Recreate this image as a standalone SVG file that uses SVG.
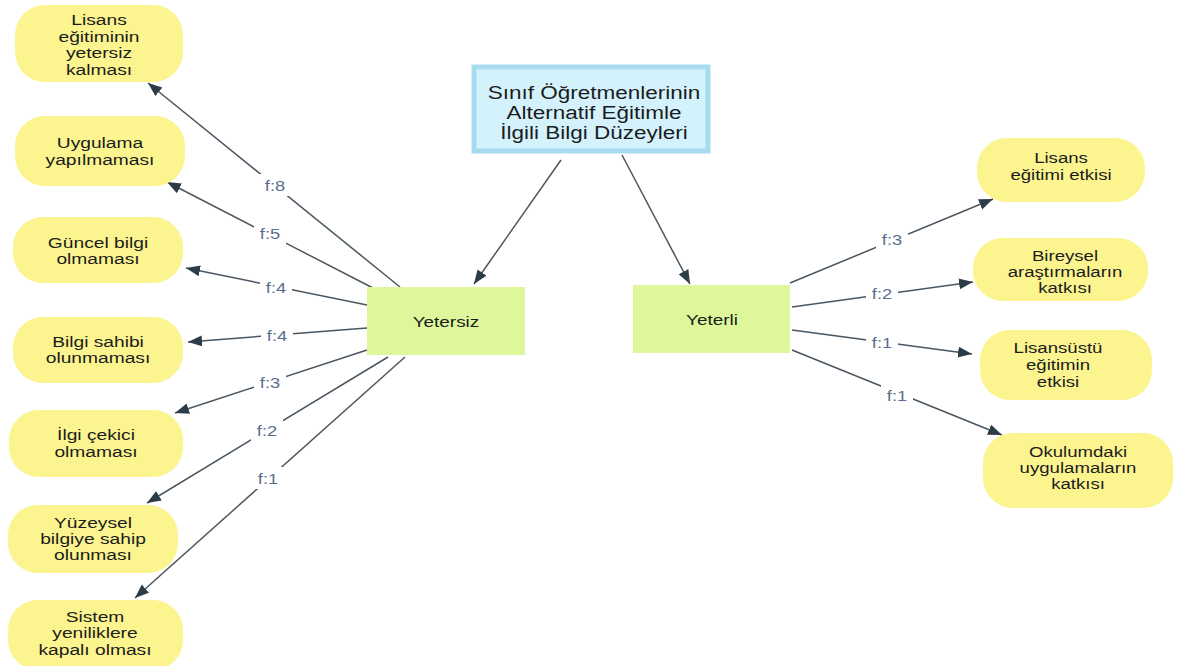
<svg xmlns="http://www.w3.org/2000/svg" width="1181" height="666" viewBox="0 0 1181 666">
<style>
.leaf{fill:#fbf48f;stroke:none}
.cat{fill:#def79b;stroke:none}
.root{fill:#d4f2fc;stroke:#a9dbf0;stroke-width:5}
.t{font-family:"Liberation Sans",Arial,sans-serif;font-size:15.5px;fill:#1c1c1c;text-anchor:middle}
.tr{font-family:"Liberation Sans",Arial,sans-serif;font-size:18px;fill:#1c1c1c;text-anchor:middle}
.edge{stroke:#4a5660;stroke-width:1.5;fill:none;marker-end:url(#ah)}
.lbg{fill:#ffffff}
.lbl{font-family:"Liberation Sans",Arial,sans-serif;font-size:15px;fill:#5b6d8e;text-anchor:middle}
</style>
<defs>
<marker id="ah" markerUnits="userSpaceOnUse" markerWidth="15" markerHeight="12" refX="14" refY="5.5" orient="auto">
<path d="M0,0 L14,5.5 L0,11 Z" fill="#2d3d47"/>
</marker>
</defs>
<rect width="1181" height="666" fill="#ffffff"/>

<g id="connectors">
<line class="edge" x1="561" y1="160" x2="474" y2="284"/>
<line class="edge" x1="622" y1="155" x2="690" y2="284"/>
<line class="edge" x1="400" y1="287" x2="148" y2="83"/>
<line class="edge" x1="373" y1="288" x2="167" y2="182"/>
<line class="edge" x1="367" y1="305" x2="186" y2="268"/>
<line class="edge" x1="367" y1="328" x2="188" y2="342"/>
<line class="edge" x1="367" y1="350" x2="175" y2="413"/>
<line class="edge" x1="388" y1="357" x2="147" y2="503"/>
<line class="edge" x1="405" y1="357" x2="135" y2="598"/>
<line class="edge" x1="790" y1="283" x2="993" y2="199"/>
<line class="edge" x1="792" y1="307" x2="973" y2="282"/>
<line class="edge" x1="792" y1="330" x2="972" y2="354"/>
<line class="edge" x1="792" y1="350" x2="1002" y2="435"/>
<g id="edge-labels">
<rect class="lbg" x="259" y="174" width="32" height="22"/>
<text class="lbl" transform="translate(275 0) scale(1.22 1)" y="191">f:8</text>
<rect class="lbg" x="254" y="222" width="32" height="22"/>
<text class="lbl" transform="translate(270 0) scale(1.22 1)" y="239">f:5</text>
<rect class="lbg" x="260" y="276" width="32" height="22"/>
<text class="lbl" transform="translate(276 0) scale(1.22 1)" y="293">f:4</text>
<rect class="lbg" x="261" y="324" width="32" height="22"/>
<text class="lbl" transform="translate(277 0) scale(1.22 1)" y="341">f:4</text>
<rect class="lbg" x="254" y="371" width="32" height="22"/>
<text class="lbl" transform="translate(270 0) scale(1.22 1)" y="388">f:3</text>
<rect class="lbg" x="251" y="419" width="32" height="22"/>
<text class="lbl" transform="translate(267 0) scale(1.22 1)" y="436">f:2</text>
<rect class="lbg" x="252" y="467" width="32" height="22"/>
<text class="lbl" transform="translate(268 0) scale(1.22 1)" y="484">f:1</text>
<rect class="lbg" x="876" y="229" width="32" height="22"/>
<text class="lbl" transform="translate(892 0) scale(1.22 1)" y="245">f:3</text>
<rect class="lbg" x="866" y="282" width="32" height="22"/>
<text class="lbl" transform="translate(882 0) scale(1.22 1)" y="299">f:2</text>
<rect class="lbg" x="866" y="331" width="32" height="22"/>
<text class="lbl" transform="translate(882 0) scale(1.22 1)" y="348">f:1</text>
<rect class="lbg" x="881" y="384" width="32" height="22"/>
<text class="lbl" transform="translate(897 0) scale(1.22 1)" y="401">f:1</text>
</g>
</g>

<g id="root">
<rect class="root" x="474" y="67" width="234" height="84"/>
<text class="tr" transform="translate(594 0) scale(1.25 1)"><tspan x="0" y="99">Sınıf Öğretmenlerinin</tspan><tspan x="0" y="119">Alternatif Eğitimle</tspan><tspan x="0" y="139">İlgili Bilgi Düzeyleri</tspan></text>
</g>

<g id="yetersiz">
<rect class="cat" x="367" y="287" width="158" height="68"/>
<text class="t" transform="translate(446 0) scale(1.22 1)" y="327">Yetersiz</text>
</g>

<g id="yeterli">
<rect class="cat" x="633" y="285" width="157" height="68"/>
<text class="t" transform="translate(712 0) scale(1.22 1)" y="325">Yeterli</text>
</g>

<g id="n-lisans-yetersiz">
<rect class="leaf" x="15" y="5" width="168" height="77" rx="30"/>
<text class="t" transform="translate(99 0) scale(1.24 1)"><tspan x="0" y="25">Lisans</tspan><tspan x="0" y="42">eğitiminin</tspan><tspan x="0" y="58">yetersiz</tspan><tspan x="0" y="75">kalması</tspan></text>
</g>
<g id="n-uygulama">
<rect class="leaf" x="15" y="116" width="170" height="70" rx="30"/>
<text class="t" transform="translate(100 0) scale(1.24 1)"><tspan x="0" y="148">Uygulama</tspan><tspan x="0" y="165">yapılmaması</tspan></text>
</g>
<g id="n-guncel">
<rect class="leaf" x="13" y="217" width="170" height="66" rx="30"/>
<text class="t" transform="translate(98 0) scale(1.24 1)"><tspan x="0" y="248">Güncel bilgi</tspan><tspan x="0" y="264">olmaması</tspan></text>
</g>
<g id="n-bilgi-sahibi">
<rect class="leaf" x="13" y="317" width="170" height="66" rx="30"/>
<text class="t" transform="translate(98 0) scale(1.24 1)"><tspan x="0" y="347">Bilgi sahibi</tspan><tspan x="0" y="363">olunmaması</tspan></text>
</g>
<g id="n-ilgi">
<rect class="leaf" x="9" y="410" width="174" height="67" rx="30"/>
<text class="t" transform="translate(96 0) scale(1.24 1)"><tspan x="0" y="440">İlgi çekici</tspan><tspan x="0" y="457">olmaması</tspan></text>
</g>
<g id="n-yuzeysel">
<rect class="leaf" x="8" y="505" width="170" height="68" rx="30"/>
<text class="t" transform="translate(93 0) scale(1.24 1)"><tspan x="0" y="528">Yüzeysel</tspan><tspan x="0" y="544">bilgiye sahip</tspan><tspan x="0" y="560">olunması</tspan></text>
</g>
<g id="n-sistem">
<rect class="leaf" x="8" y="600" width="175" height="70" rx="30"/>
<text class="t" transform="translate(95 0) scale(1.24 1)"><tspan x="0" y="622">Sistem</tspan><tspan x="0" y="638">yeniliklere</tspan><tspan x="0" y="655">kapalı olması</tspan></text>
</g>

<g id="n-lisans-etkisi">
<rect class="leaf" x="977" y="138" width="168" height="64" rx="30"/>
<text class="t" transform="translate(1061 0) scale(1.2 1)"><tspan x="0" y="163">Lisans</tspan><tspan x="0" y="180">eğitimi etkisi</tspan></text>
</g>
<g id="n-bireysel">
<rect class="leaf" x="973" y="238" width="175" height="63" rx="30"/>
<text class="t" transform="translate(1065 0) scale(1.2 1)"><tspan x="0" y="261">Bireysel</tspan><tspan x="0" y="277">araştırmaların</tspan><tspan x="0" y="293">katkısı</tspan></text>
</g>
<g id="n-lisansustu">
<rect class="leaf" x="980" y="330" width="172" height="70" rx="30"/>
<text class="t" transform="translate(1058 0) scale(1.2 1)"><tspan x="0" y="353">Lisansüstü</tspan><tspan x="0" y="370">eğitimin</tspan><tspan x="0" y="387">etkisi</tspan></text>
</g>
<g id="n-okulumdaki">
<rect class="leaf" x="983" y="433" width="190" height="75" rx="30"/>
<text class="t" transform="translate(1078 0) scale(1.2 1)"><tspan x="0" y="457">Okulumdaki</tspan><tspan x="0" y="473">uygulamaların</tspan><tspan x="0" y="489">katkısı</tspan></text>
</g>
</svg>
